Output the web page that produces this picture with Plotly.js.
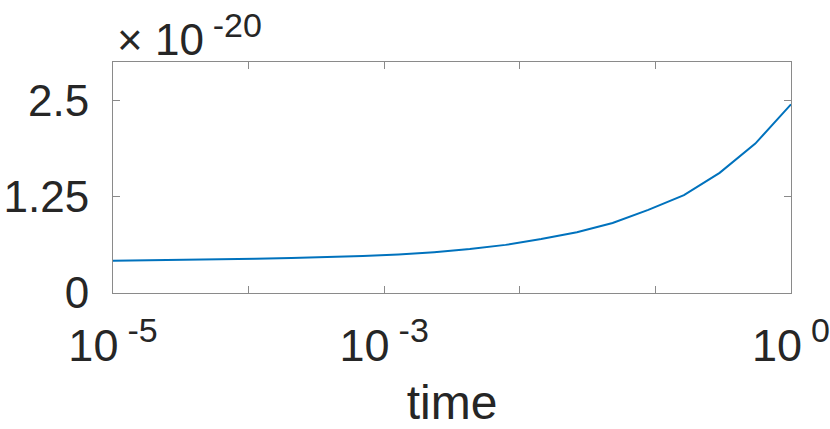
<!DOCTYPE html>
<html>
<head>
<meta charset="utf-8">
<script src="https://cdn.plot.ly/plotly-3.0.1.min.js"></script>
<style>
  html, body { margin: 0; padding: 0; background: #fff; }
  #chart { width: 830px; height: 429px; }
</style>
</head>
<body>
<div id="chart"></div>
<script>
// time points (log spaced) and value in units of 1e-20
var time = [1e-5, 1.833e-5, 3.360e-5, 6.158e-5, 1.129e-4, 2.069e-4, 3.793e-4, 6.952e-4,
            1.274e-3, 2.336e-3, 4.281e-3, 7.848e-3, 1.438e-2, 2.637e-2, 4.833e-2, 8.859e-2,
            0.1624, 0.2976, 0.5456, 1];
var value = [0.42, 0.425, 0.43, 0.44, 0.445, 0.455, 0.465, 0.48,
             0.50, 0.53, 0.57, 0.625, 0.70, 0.79, 0.91, 1.08,
             1.27, 1.56, 1.94, 2.45];
var xTickVals = [1e-5, 1e-4, 1e-3, 1e-2, 1e-1, 1];
var xTickExp = ['-5', '', '-3', '', '', '0'];
var yTickVals = [0, 1.25, 2.5];
var yTickText = ['0', '1.25', '2.5'];
var scaleExp = '-20';

var FONT = 'Liberation Sans, Arial, Helvetica, sans-serif';
var TEXT = '#262626';
var AXIS = '#8a8a8a';

function pow10(e) {
  return '10\u2009<sup><span style="font-size:34px">' + e + '</span></sup>';
}
var xTickText = xTickExp.map(function (e) { return e === '' ? '' : pow10(e); });

var trace = {
  x: time,
  y: value,
  type: 'scatter',
  mode: 'lines',
  line: {color: '#0072BD', width: 2},
  hoverinfo: 'skip'
};

var layout = {
  width: 830,
  height: 429,
  margin: {l: 113, r: 39, t: 62, b: 136},
  paper_bgcolor: '#fff',
  plot_bgcolor: '#fff',
  showlegend: false,
  font: {family: FONT, color: TEXT, size: 44},
  xaxis: {
    type: 'log',
    range: [-5, 0],
    tickvals: xTickVals,
    ticktext: xTickText,
    ticks: 'inside',
    ticklen: 7,
    tickwidth: 1,
    tickcolor: AXIS,
    showgrid: false,
    zeroline: false,
    showline: true,
    linecolor: AXIS,
    linewidth: 1,
    mirror: 'allticks',
    tickfont: {family: FONT, size: 45, color: TEXT},
    ticklabelstandoff: 13,
    ticklabeloverflow: 'allow',
    automargin: false,
    title: {text: 'time', font: {family: FONT, size: 48, color: TEXT}, standoff: 20}
  },
  yaxis: {
    range: [0, 3],
    tickvals: yTickVals,
    ticktext: yTickText,
    ticks: 'inside',
    ticklen: 7,
    tickwidth: 1,
    tickcolor: AXIS,
    showgrid: false,
    zeroline: false,
    showline: true,
    linecolor: AXIS,
    linewidth: 1,
    mirror: 'allticks',
    tickfont: {family: FONT, size: 44, color: TEXT},
    ticklabelstandoff: 14,
    automargin: false
  },
  annotations: [{
    text: '\u00d7\u00a0' + pow10(scaleExp),
    xref: 'paper', yref: 'paper',
    x: 0, y: 1,
    xanchor: 'left', yanchor: 'bottom',
    xshift: 2, yshift: -4,
    showarrow: false,
    font: {family: FONT, size: 44, color: TEXT}
  }]
};

Plotly.newPlot('chart', [trace], layout, {displayModeBar: false, staticPlot: true});
</script>
</body>
</html>
